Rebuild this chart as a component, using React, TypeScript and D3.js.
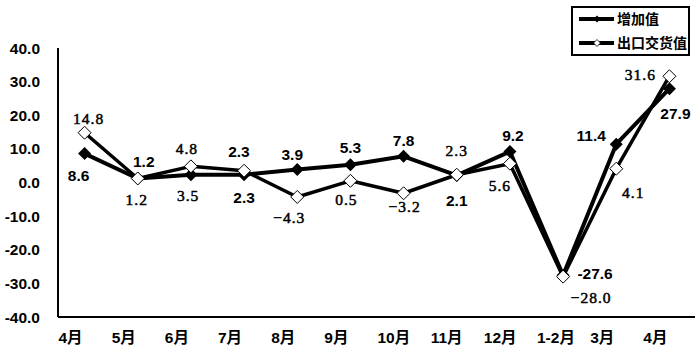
import React from "react";
import * as d3 from "d3";

const CATEGORIES = ["4月", "5月", "6月", "7月", "8月", "9月", "10月", "11月", "12月", "1-2月", "3月", "4月"];
const ADDED_VALUE = [8.6, 1.2, 2.3, 2.3, 3.9, 5.3, 7.8, 2.1, 9.2, -27.6, 11.4, 27.9];
const EXPORT_VALUE = [14.8, 1.2, 4.8, 3.5, -4.3, 0.5, -3.2, 2.3, 5.6, -28.0, 4.1, 31.6];
const Y_TICKS = [40, 30, 20, 10, 0, -10, -20, -30, -40];
const SERIES_NAMES = ["增加值", "出口交货值"];

// label offsets from each point (placement as in the source chart)
const ADDED_LABEL_OFFSETS: [number, number][] = [
  [-6, 22], [6, -17], [48, -23], [0, 23], [-5, -15], [0, -17],
  [0, -16], [0, 25], [3, -16], [32, -2], [-25, -9], [6, 25],
];
const EXPORT_LABEL_OFFSETS: [number, number][] = [
  [4, -14], [-1, 21], [-4, -18], [-56, 25], [-8, 21], [-4, 19],
  [1, 13], [0, -24], [-10, 22], [28, 21], [17, 24], [-29, -2],
];

const W = 696;
const H = 352;
const LEFT = 58;
const RIGHT = 696;
const TOP = 48;
const BOTTOM = 317;

const SANS = "'Liberation Sans', Arial, 'Noto Sans CJK SC', sans-serif";
const SERIF = "'Liberation Serif', 'Times New Roman', serif";
const CJK = "'Liberation Sans', 'Noto Sans CJK SC', sans-serif";

const diamond = (cx: number, cy: number, r: number) =>
  `M${cx},${cy - r}L${cx + r},${cy}L${cx},${cy + r}L${cx - r},${cy}Z`;

export default function App() {
  const idx = CATEGORIES.map((_, i) => String(i));
  const x = d3.scaleBand().domain(idx).range([LEFT, RIGHT]).padding(0);
  const cx = (i: number) => (x(String(i)) || 0) + x.bandwidth() / 2;
  const y = d3.scaleLinear().domain([-40, 40]).range([BOTTOM, TOP]);

  const line = d3
    .line<number>()
    .x((_, i) => cx(i))
    .y((d) => y(d));

  const fmt = (v: number) => (v < 0 ? "-" : "") + Math.abs(v).toFixed(1);

  return (
    <svg
      width={W}
      height={H}
      style={{ position: "absolute", left: 0, top: 0, background: "#fff" }}
    >
      {/* y tick labels */}
      {Y_TICKS.map((t) => (
        <text
          key={t}
          x={40}
          y={y(t)}
          textAnchor="end"
          dominantBaseline="central"
          fontFamily={SANS}
          fontWeight={700}
          fontSize={15.5}
        >
          {t.toFixed(1)}
        </text>
      ))}

      {/* axes */}
      <line x1={LEFT} x2={LEFT} y1={TOP} y2={BOTTOM} stroke="#000" strokeWidth={2} />
      <line x1={LEFT} x2={RIGHT - 1} y1={BOTTOM} y2={BOTTOM} stroke="#000" strokeWidth={2} />

      {/* x labels, left aligned in each band */}
      {CATEGORIES.map((c, i) => (
        <text
          key={i}
          x={(x(String(i)) || 0) + 0.5}
          y={337}
          dominantBaseline="central"
          fontFamily={CJK}
          fontWeight={700}
          fontSize={15.5}
        >
          {c}
        </text>
      ))}

      {/* lines */}
      <path d={line(ADDED_VALUE) || ""} fill="none" stroke="#000" strokeWidth={4} strokeLinejoin="round" />
      <path d={line(EXPORT_VALUE) || ""} fill="none" stroke="#000" strokeWidth={3.5} strokeLinejoin="round" />

      {/* markers */}
      {ADDED_VALUE.map((v, i) => (
        <path key={"a" + i} d={diamond(cx(i), y(v), 6.5)} fill="#000" />
      ))}
      {EXPORT_VALUE.map((v, i) => (
        <path key={"e" + i} d={diamond(cx(i), y(v), 6.5)} fill="#fff" stroke="#000" strokeWidth={1} />
      ))}

      {/* data labels */}
      {ADDED_VALUE.map((v, i) => (
        <text
          key={"la" + i}
          x={cx(i) + ADDED_LABEL_OFFSETS[i][0]}
          y={y(v) + ADDED_LABEL_OFFSETS[i][1]}
          textAnchor="middle"
          dominantBaseline="central"
          fontFamily={SANS}
          fontWeight={700}
          fontSize={15.5}
        >
          {fmt(v)}
        </text>
      ))}
      {EXPORT_VALUE.map((v, i) => (
        <text
          key={"le" + i}
          x={cx(i) + EXPORT_LABEL_OFFSETS[i][0]}
          y={y(v) + EXPORT_LABEL_OFFSETS[i][1]}
          textAnchor="middle"
          dominantBaseline="central"
          fontFamily={SERIF}
          fontSize={15.5}
          letterSpacing={1}
          stroke="#000"
          strokeWidth={0.5}
        >
          {(v < 0 ? "−" : "") + Math.abs(v).toFixed(1)}
        </text>
      ))}

      {/* legend */}
      <rect x={572} y={7} width={117} height={48} fill="#fff" stroke="#000" strokeWidth={2} />
      {SERIES_NAMES.map((name, k) => {
        const ly = 19 + k * 24;
        return (
          <g key={name}>
            <line x1={579} x2={614} y1={ly} y2={ly} stroke="#000" strokeWidth={4} />
            {k === 0 ? (
              <path d={diamond(597, ly, 3.5)} fill="#000" />
            ) : (
              <path d={diamond(597, ly, 3.5)} fill="#fff" stroke="#000" strokeWidth={0.8} />
            )}
            <text
              x={617}
              y={ly}
              dominantBaseline="central"
              fontFamily={CJK}
              fontWeight={700}
              fontSize={14}
            >
              {name}
            </text>
          </g>
        );
      })}
    </svg>
  );
}
